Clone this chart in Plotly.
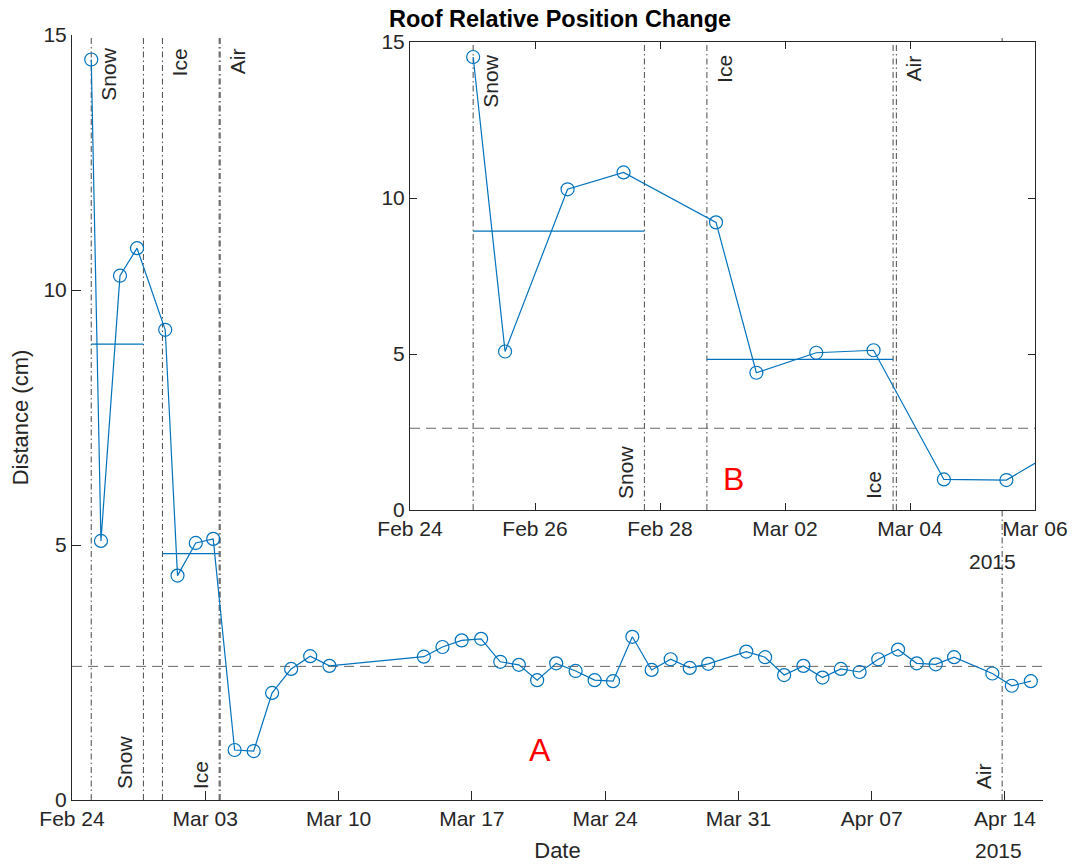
import plotly.graph_objects as go

# ---------------- data ----------------
obs_time = [
    "2015-02-25 00:15", "2015-02-25 12:30", "2015-02-26 12:30", "2015-02-27 10:00", "2015-02-28 21:30",
    "2015-03-01 13:00", "2015-03-02 12:00", "2015-03-03 10:00", "2015-03-04 13:00", "2015-03-05 13:00",
    "2015-03-06 12:15", "2015-03-07 12:15", "2015-03-08 12:15", "2015-03-09 12:30",
    "2015-03-14 11:30", "2015-03-15 11:00", "2015-03-16 11:15", "2015-03-17 11:45", "2015-03-18 11:50",
    "2015-03-19 11:20", "2015-03-20 10:20", "2015-03-21 10:20", "2015-03-22 10:50", "2015-03-23 10:50",
    "2015-03-24 10:00", "2015-03-25 10:20", "2015-03-26 10:40", "2015-03-27 10:40", "2015-03-28 10:40",
    "2015-03-29 10:00", "2015-03-31 10:00", "2015-04-01 09:40", "2015-04-02 09:40", "2015-04-03 10:00",
    "2015-04-04 10:00", "2015-04-05 09:10", "2015-04-06 08:50", "2015-04-07 08:20", "2015-04-08 09:20",
    "2015-04-09 08:50", "2015-04-10 08:50", "2015-04-11 07:55", "2015-04-13 08:10", "2015-04-14 08:40",
    "2015-04-15 08:40",
]
distance_cm = [
    14.52, 5.08, 10.28, 10.82, 9.22,
    4.40, 5.04, 5.12, 0.98, 0.96,
    2.10, 2.57, 2.82, 2.63,
    2.81, 3.00, 3.13, 3.16, 2.71,
    2.65, 2.35, 2.68, 2.53, 2.35,
    2.33, 3.20, 2.55, 2.76, 2.59,
    2.67, 2.91, 2.80, 2.45, 2.63,
    2.40, 2.57, 2.51, 2.76, 2.95,
    2.68, 2.66, 2.80, 2.48, 2.24,
    2.33,
]

# phase boundaries
phase_names = ["Snow", "Ice", "Air"]
phase_start = ["2015-02-25 00:15", "2015-02-28 18:00", "2015-03-03 18:45"]
phase_end = ["2015-02-27 18:00", "2015-03-03 17:30", "2015-04-13 20:30"]
snow_mean = 8.94
ice_mean = 4.83
air_mean = 2.62

main_tick_vals = ["2015-02-24", "2015-03-03", "2015-03-10", "2015-03-17",
                  "2015-03-24", "2015-03-31", "2015-04-07", "2015-04-14"]
main_tick_text = ["Feb 24", "Mar 03", "Mar 10", "Mar 17", "Mar 24", "Mar 31", "Apr 07", "Apr 14"]
inset_tick_vals = ["2015-02-24", "2015-02-26", "2015-02-28", "2015-03-02", "2015-03-04", "2015-03-06"]
inset_tick_text = ["Feb 24", "Feb 26", "Feb 28", "Mar 02", "Mar 04", "Mar 06"]
y_tick_vals = [0, 5, 10, 15]

# ---------------- styling ----------------
BLUE = "#0072BD"
GRAY = "#4a4a4a"
TXT = "#262626"
FONT = "Liberation Sans, Arial, Helvetica, sans-serif"
DASHDOT = "6px,3px,1.5px,3px"
DASH = "10px,6px"

main_range = ["2015-02-24", "2015-04-16"]
inset_range = ["2015-02-24", "2015-03-06"]
y_range = [0, 15]

fig = go.Figure()

panels = [("x", "y", main_range), ("x2", "y2", inset_range)]
for xa, ya, rng in panels:
    common = dict(xaxis=xa, yaxis=ya, hoverinfo="skip", showlegend=False)
    # vertical phase boundaries
    for t in phase_start + phase_end:
        fig.add_trace(go.Scatter(x=[t, t], y=y_range, mode="lines",
                                 line=dict(color=GRAY, width=1, dash=DASHDOT), **common))
    # air mean (dashed, full width)
    fig.add_trace(go.Scatter(x=rng, y=[air_mean, air_mean], mode="lines",
                             line=dict(color="#666666", width=1, dash=DASH), **common))
    # phase means
    fig.add_trace(go.Scatter(x=[phase_start[0], phase_end[0]], y=[snow_mean, snow_mean], mode="lines",
                             line=dict(color=BLUE, width=1.2), **common))
    fig.add_trace(go.Scatter(x=[phase_start[1], phase_end[1]], y=[ice_mean, ice_mean], mode="lines",
                             line=dict(color=BLUE, width=1.2), **common))
    # observations
    fig.add_trace(go.Scatter(x=obs_time, y=distance_cm, mode="lines+markers",
                             line=dict(color=BLUE, width=1.2),
                             marker=dict(symbol="circle-open", size=13, color=BLUE, line=dict(width=1.2)),
                             xaxis=xa, yaxis=ya, showlegend=False))

annotations = []
lab_font = dict(family=FONT, size=21, color=TXT)
for xa, ya, rng in panels:
    for name, t in zip(phase_names, phase_start):
        annotations.append(dict(x=t, y=15, xref=xa, yref=ya, text=name, textangle=-90, showarrow=False,
                                xanchor="center", yanchor="top", xshift=17, yshift=-11, font=lab_font))
    for name, t in zip(phase_names, phase_end):
        if xa == "x2" and t > rng[1]:
            continue
        annotations.append(dict(x=t, y=0, xref=xa, yref=ya, text=name, textangle=-90, showarrow=False,
                                xanchor="center", yanchor="bottom", xshift=-19, yshift=9, font=lab_font))

annotations.append(dict(x="2015-03-20 14:00", y=0.98, xref="x", yref="y", text="A", showarrow=False,
                        font=dict(family=FONT, size=32, color="#FF0000")))
annotations.append(dict(x="2015-03-01 04:20", y=0.99, xref="x2", yref="y2", text="B", showarrow=False,
                        font=dict(family=FONT, size=32, color="#FF0000")))
annotations.append(dict(x=0.9537, y=-0.0654, xref="paper", yref="paper", text="2015", showarrow=False,
                        xanchor="center", yanchor="middle", font=lab_font))
annotations.append(dict(x=0.9485, y=0.3124, xref="paper", yref="paper", text="2015", showarrow=False,
                        xanchor="center", yanchor="middle", font=lab_font))

axis_common = dict(showline=True, linecolor=TXT, linewidth=1, ticks="inside", tickcolor=TXT, tickwidth=1,
                   showgrid=False, zeroline=False, automargin=False,
                   tickfont=dict(family=FONT, size=21, color=TXT))

fig.update_layout(
    width=1074, height=865,
    margin=dict(l=72, r=31, t=35, b=65, autoexpand=False),
    template="none",
    paper_bgcolor="white", plot_bgcolor="white",
    font=dict(family=FONT, size=21, color=TXT),
    showlegend=False,
    title=dict(text="<b>Roof Relative Position Change</b>", x=0.5026, xref="paper", xanchor="center",
               y=1 - 19 / 865, yref="container", yanchor="middle", automargin=False,
               font=dict(family=FONT, size=23.5, color="#000000")),
    xaxis=dict(domain=[0, 1], anchor="y", type="date", range=main_range, tickmode="array",
               tickvals=main_tick_vals, ticktext=main_tick_text, ticklen=9,
               title=dict(text="Date", standoff=13, font=dict(family=FONT, size=22, color=TXT)),
               **axis_common),
    yaxis=dict(domain=[0, 1], anchor="x", range=y_range, tickmode="array", tickvals=y_tick_vals, ticklen=9,
               title=dict(text="Distance (cm)", standoff=8, font=dict(family=FONT, size=22, color=TXT)),
               **axis_common),
    xaxis2=dict(domain=[0.3481, 0.9918], anchor="y2", type="date", range=inset_range, tickmode="array",
                tickvals=inset_tick_vals, ticktext=inset_tick_text, ticklen=7, mirror="allticks",
                **axis_common),
    yaxis2=dict(domain=[0.3791, 0.9908], anchor="x2", range=y_range, tickmode="array", tickvals=y_tick_vals,
                ticklen=7, mirror="allticks", **axis_common),
    annotations=annotations,
)

fig.write_html("out.html", config={"displayModeBar": False},
               post_script="document.body.style.margin='0px';document.body.style.overflow='hidden';")
